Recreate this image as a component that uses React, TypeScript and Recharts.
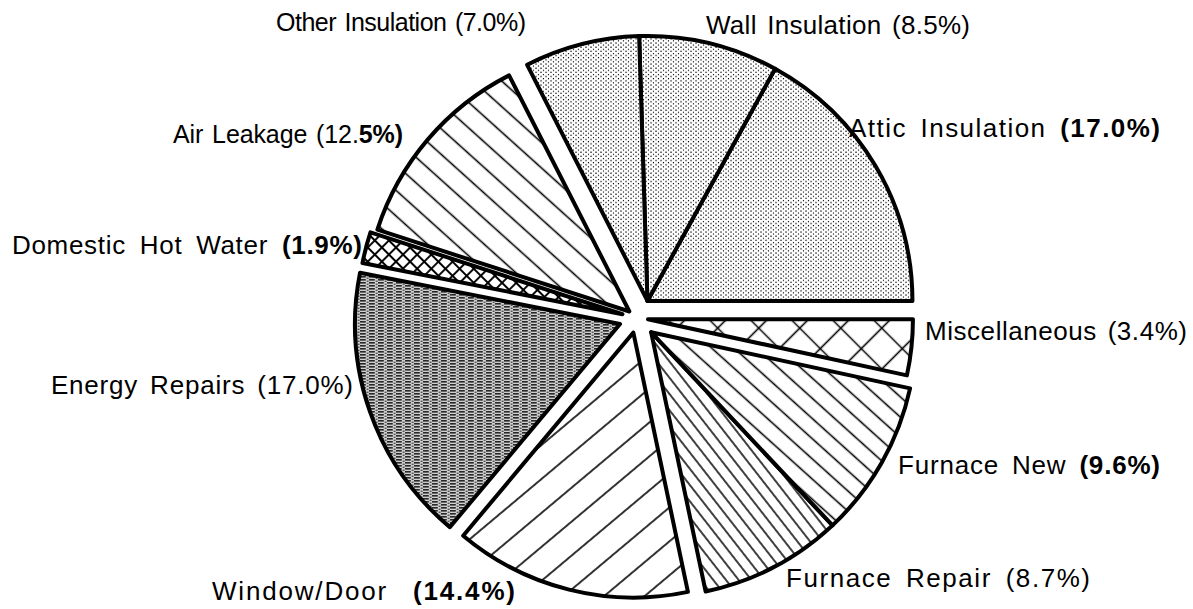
import React from 'react';
import { PieChart, Pie, Sector } from 'recharts';

// ---------- data ----------
const CATEGORIES = [
  'Attic Insulation',
  'Wall Insulation',
  'Other Insulation',
  'Air Leakage',
  'Domestic Hot Water',
  'Energy Repairs',
  'Window/Door',
  'Furnace Repair',
  'Furnace New',
  'Miscellaneous',
];
const SHARES = [17.0, 8.5, 7.0, 12.5, 1.9, 17.0, 14.4, 8.7, 9.6, 3.4];
const PCT_LABELS = SHARES.map((v) => `(${v.toFixed(1)}%)`);

const data = CATEGORIES.map((name, i) => ({ name, value: SHARES[i], pct: PCT_LABELS[i] }));

// ---------- style ----------
const FILLS: Record<string, string> = {
  'Attic Insulation': 'pDots',
  'Wall Insulation': 'pDots',
  'Other Insulation': 'pDots',
  'Air Leakage': 'pAir',
  'Domestic Hot Water': 'pCrossSmall',
  'Energy Repairs': 'pEnergy',
  'Window/Door': 'pWindow',
  'Furnace Repair': 'pFRepair',
  'Furnace New': 'pFNew',
  Miscellaneous: 'pCrossLarge',
};

// slices that are pulled out together
const EXPLODE_GROUPS = [
  ['Attic Insulation', 'Wall Insulation', 'Other Insulation'],
  ['Furnace Repair', 'Furnace New'],
];
const EXPLODE_DIST: Record<string, number> = {
  'Attic Insulation': 20,
  'Wall Insulation': 20,
  'Other Insulation': 20,
  'Air Leakage': 10,
  'Domestic Hot Water': 15,
  'Energy Repairs': 18,
  'Window/Door': 15,
  'Furnace Repair': 20,
  'Furnace New': 20,
  Miscellaneous: 11,
};

type Lay = { x: number; y: number; anchor: 'start' | 'end'; w: number; ws: number; fs: number; boldFrom: number | null };
const LABEL_LAYOUT: Record<string, Lay> = {
  'Other Insulation': { x: 526, y: 31, anchor: 'end', w: 250, ws: 2, fs: 25, boldFrom: null },
  'Wall Insulation': { x: 706, y: 34, anchor: 'start', w: 264, ws: 3, fs: 26, boldFrom: null },
  'Attic Insulation': { x: 849, y: 137, anchor: 'start', w: 311, ws: 5, fs: 26, boldFrom: 0 },
  'Air Leakage': { x: 403, y: 143, anchor: 'end', w: 230, ws: 2, fs: 25, boldFrom: 4 },
  'Domestic Hot Water': { x: 362, y: 254, anchor: 'end', w: 350, ws: 6, fs: 26, boldFrom: 0 },
  Miscellaneous: { x: 925, y: 340, anchor: 'start', w: 262, ws: 3, fs: 26, boldFrom: null },
  'Energy Repairs': { x: 353, y: 394, anchor: 'end', w: 302, ws: 4, fs: 26, boldFrom: null },
  'Furnace New': { x: 898, y: 474, anchor: 'start', w: 262, ws: 5, fs: 26, boldFrom: 0 },
  'Furnace Repair': { x: 786, y: 587, anchor: 'start', w: 304, ws: 5, fs: 26, boldFrom: null },
  'Window/Door': { x: 212, y: 600, anchor: 'start', w: 303, ws: 16, fs: 26, boldFrom: 0 },
};

const FONT = '"Liberation Sans", Arial, Helvetica, sans-serif';

// mid angle of a group of consecutive slices (same proportional rule the pie uses)
function groupMidAngle(names: string[]): number {
  const total = SHARES.reduce((a, b) => a + b, 0);
  const idx = names.map((n) => CATEGORIES.indexOf(n));
  const first = Math.min(...idx);
  const last = Math.max(...idx);
  let before = 0;
  for (let i = 0; i < first; i++) before += SHARES[i];
  let span = 0;
  for (let i = first; i <= last; i++) span += SHARES[i];
  return ((before + span / 2) / total) * 360;
}

const RAD = Math.PI / 180;

const renderSlice = (props: any) => {
  const { cx, cy, midAngle, outerRadius, startAngle, endAngle, payload } = props;
  const name: string = payload?.name ?? props.name;
  const grp = EXPLODE_GROUPS.find((g) => g.includes(name));
  const dir = grp ? groupMidAngle(grp) : midAngle;
  const d = EXPLODE_DIST[name] ?? 0;
  const dx = d * Math.cos(dir * RAD);
  const dy = -d * Math.sin(dir * RAD);
  const lay = LABEL_LAYOUT[name];
  const pct: string = payload?.pct ?? '';
  const bf = lay?.boldFrom;
  const pctNormal = bf == null ? pct : pct.slice(0, bf);
  const pctBold = bf == null ? '' : pct.slice(bf);
  return (
    <g>
      <Sector
        cx={cx + dx}
        cy={cy + dy}
        innerRadius={0}
        outerRadius={outerRadius}
        startAngle={startAngle}
        endAngle={endAngle}
        fill={`url(#${FILLS[name]})`}
        stroke="#000"
        strokeWidth={4}
        strokeLinejoin="round"
      />
      {lay && (
        <text
          x={lay.x}
          y={lay.y}
          textAnchor={lay.anchor}
          fontFamily={FONT}
          fontSize={lay.fs}
          fill="#000"
          textLength={lay.w}
          lengthAdjust="spacing"
          style={{ wordSpacing: `${lay.ws}px` }}
        >
          {name} {pctNormal}
          {pctBold && <tspan fontWeight={700}>{pctBold}</tspan>}
        </text>
      )}
    </g>
  );
};

function Patterns() {
  return (
    <svg width={0} height={0} style={{ position: 'absolute' }}>
      <defs>
        <pattern id="pDots" width={5} height={4.2} patternUnits="userSpaceOnUse">
          <rect width={5} height={4.2} fill="#fff" />
          <rect x={0.4} y={0.4} width={1.25} height={1.25} fill="#000" />
          <rect x={2.9} y={2.5} width={1.15} height={1.15} fill="#000" />
        </pattern>
        <pattern id="pAir" width={10} height={19} patternUnits="userSpaceOnUse" patternTransform="rotate(42)">
          <rect width={10} height={19} fill="#fff" />
          <line x1={0} y1={9.5} x2={10} y2={9.5} stroke="#000" strokeWidth={1.6} />
        </pattern>
        <pattern id="pCrossSmall" width={10} height={10} patternUnits="userSpaceOnUse" patternTransform="rotate(45)">
          <rect width={10} height={10} fill="#fff" />
          <path d="M0 5 H10 M5 0 V10" stroke="#000" strokeWidth={1.9} />
        </pattern>
        <pattern id="pEnergy" width={9} height={3} patternUnits="userSpaceOnUse">
          <rect width={9} height={3} fill="#cfcfcf" />
          <rect x={0} y={0.2} width={5.8} height={1.3} fill="#000" />
          <rect x={6.6} y={1.7} width={2} height={1} fill="#222" />
        </pattern>
        <pattern id="pWindow" width={10} height={26} patternUnits="userSpaceOnUse" patternTransform="rotate(-40)">
          <rect width={10} height={26} fill="#fff" />
          <line x1={0} y1={13} x2={10} y2={13} stroke="#000" strokeWidth={1.6} />
        </pattern>
        <pattern id="pFRepair" width={10} height={10} patternUnits="userSpaceOnUse" patternTransform="rotate(52)">
          <rect width={10} height={10} fill="#fff" />
          <line x1={0} y1={5} x2={10} y2={5} stroke="#000" strokeWidth={1.5} />
        </pattern>
        <pattern id="pFNew" width={10} height={15} patternUnits="userSpaceOnUse" patternTransform="rotate(42)">
          <rect width={10} height={15} fill="#fff" />
          <line x1={0} y1={7.5} x2={10} y2={7.5} stroke="#000" strokeWidth={1.6} />
        </pattern>
        <pattern id="pCrossLarge" width={29} height={29} patternUnits="userSpaceOnUse" patternTransform="rotate(45)">
          <rect width={29} height={29} fill="#fff" />
          <path d="M0 14.5 H29 M14.5 0 V29" stroke="#000" strokeWidth={1.6} />
        </pattern>
      </defs>
    </svg>
  );
}

export default function App() {
  return (
    <div style={{ position: 'absolute', left: 0, top: 0, width: 1193, height: 609, background: '#fff' }}>
      <Patterns />
      <PieChart width={1193} height={609} margin={{ top: 0, right: 0, bottom: 0, left: 0 }}>
        <Pie
          data={data}
          dataKey="value"
          nameKey="name"
          cx={637}
          cy={318}
          innerRadius={0}
          outerRadius={265}
          startAngle={0}
          endAngle={360}
          fill="none"
          stroke="none"
          label={renderSlice}
          labelLine={false}
          isAnimationActive={false}
        />
      </PieChart>
    </div>
  );
}
